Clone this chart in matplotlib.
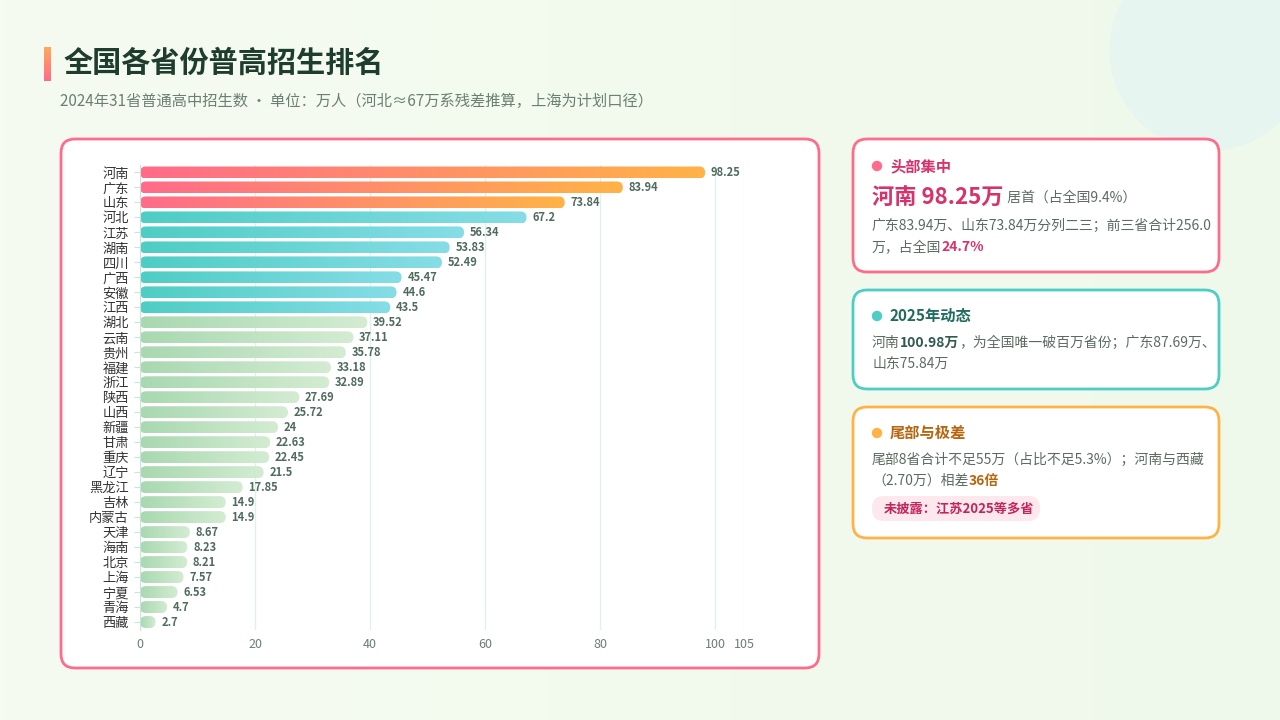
import matplotlib
matplotlib.use("Agg")
import matplotlib.pyplot as plt
import numpy as np
from matplotlib.patches import FancyBboxPatch, Circle
from matplotlib.colors import LinearSegmentedColormap, to_rgb

plt.rcParams['font.family'] = ['Noto Sans CJK SC', 'DejaVu Sans']

provinces = ["河南","广东","山东","河北","江苏","湖南","四川","广西","安徽","江西","湖北","云南","贵州","福建","浙江",
             "陕西","山西","新疆","甘肃","重庆","辽宁","黑龙江","吉林","内蒙古","天津","海南","北京","上海","宁夏","青海","西藏"]
values = [98.25,83.94,73.84,67.2,56.34,53.83,52.49,45.47,44.6,43.5,39.52,37.11,35.78,33.18,32.89,
          27.69,25.72,24,22.63,22.45,21.5,17.85,14.9,14.9,8.67,8.23,8.21,7.57,6.53,4.7,2.7]
xticks = [0,20,40,60,80,100,105]

W, H = 1280, 720
fig = plt.figure(figsize=(12.8, 7.2), dpi=100)
renderer = fig.canvas.get_renderer()

def fx(x): return x / W
def fy(y): return 1 - y / H

bg = fig.add_axes([0, 0, 1, 1], zorder=-10)
bg.set_xlim(0, W); bg.set_ylim(H, 0); bg.axis('off')
gx = np.linspace(0, 1, 200)[None, :, None]
c1, c2 = np.array(to_rgb("#F6FBF1")), np.array(to_rgb("#EFF9EB"))
img = c1 * (1 - gx) + c2 * gx
img = np.repeat(img, 2, axis=0)
bg.imshow(img, extent=[0, W, H, 0], aspect='auto', zorder=0)
bg.add_patch(Circle((1210, 50), 100, color="#E6F5F0", alpha=0.9, zorder=0.5))
bg.set_xlim(0, W); bg.set_ylim(H, 0)

acc = np.linspace(0, 1, 50)[:, None, None]
accimg = np.array(to_rgb("#FFA85C")) * (1 - acc) + np.array(to_rgb("#FF6B8A")) * acc
accimg = np.repeat(accimg, 3, axis=1)
bg.imshow(accimg, extent=[44, 51, 81, 47], aspect='auto', zorder=2)
bg.text(64, 63, "全国各省份普高招生排名", fontsize=21, fontweight='bold', color="#1F3D2E", va='center')
bg.text(60, 101, "2024年31省普通高中招生数 · 单位：万人（河北≈67万系残差推算，上海为计划口径）",
        fontsize=11, color="#6B7F73", va='center')
bg.set_xlim(0, W); bg.set_ylim(H, 0)

def card(x0, y0, x1, y1, ec):
    bg.add_patch(FancyBboxPatch((x0, y0), x1 - x0, y1 - y0, boxstyle="round,pad=0,rounding_size=14",
                                fc="white", ec=ec, lw=2, zorder=1))
card(61, 139, 819, 668, "#FF6B8A")
card(853, 139, 1219, 272, "#FF6B8A")
card(853, 290, 1219, 389, "#4ECDC4")
card(853, 407, 1219, 538, "#FFB347")

def seq(x, y, parts):
    for s, size, bold, col in parts:
        t = bg.text(x, y, s, fontsize=size, fontweight='bold' if bold else 'normal', color=col, va='center')
        bb = t.get_window_extent(renderer)
        x += bb.width
    return x

G = "#5B6B62"
bg.add_patch(Circle((877, 166), 4.5, color="#FF6B8A", zorder=3))
bg.text(890, 166, "头部集中", fontsize=11, fontweight='bold', color="#D6336C", va='center')
seq(872, 198, [("河南 98.25万", 16, True, "#D6336C"), (" 居首（占全国9.4%）", 10, False, G)])
bg.text(872, 226, "广东83.94万、山东73.84万分列二三；前三省合计256.0", fontsize=10, color=G, va='center')
seq(872, 247, [("万，占全国", 10, False, G), ("24.7%", 10, True, "#D6336C")])

bg.add_patch(Circle((877, 316), 4.5, color="#4ECDC4", zorder=3))
bg.text(890, 316, "2025年动态", fontsize=11, fontweight='bold', color="#1F6B5E", va='center')
seq(872, 343, [("河南", 10, False, G), ("100.98万", 10, True, "#2F5A4E"), ("，为全国唯一破百万省份；广东87.69万、", 10, False, G)])
bg.text(872, 364, "山东75.84万", fontsize=10, color=G, va='center')

bg.add_patch(Circle((877, 433), 4.5, color="#FFB347", zorder=3))
bg.text(890, 433, "尾部与极差", fontsize=11, fontweight='bold', color="#B8650F", va='center')
bg.text(872, 460, "尾部8省合计不足55万（占比不足5.3%）；河南与西藏", fontsize=10, color=G, va='center')
seq(872, 481, [("（2.70万）相差", 10, False, G), ("36倍", 10, True, "#B8650F")])
bg.add_patch(FancyBboxPatch((872, 496), 168, 25, boxstyle="round,pad=0,rounding_size=12",
                            fc="#FDE8EE", ec="none", zorder=2))
bg.text(884, 509, "未披露：江苏2025等多省", fontsize=9.5, fontweight='bold', color="#C2255C", va='center')

ax = fig.add_axes([fx(140), fy(630), (744 - 140) / W, (630 - 165) / H])
n = len(values)
ax.patch.set_alpha(0)
for s in ax.spines.values(): s.set_visible(False)
ax.spines['left'].set_visible(True); ax.spines['left'].set_color("#C9E4DA")
for t in xticks:
    ax.axvline(t, color="#E0F0EC", lw=1, zorder=0)
ax.set_xticks(xticks)
ax.set_xticklabels([str(t) for t in xticks], fontsize=9, color="#6B7F73")
ax.set_yticks(range(n))
ax.set_yticklabels(provinces, fontsize=9.5, color="#333333")
ax.tick_params(axis='x', length=0, pad=6)
ax.tick_params(axis='y', length=4, color="#C9E4DA", pad=4)

xpp = 105 / (744 - 140)
ypp = 1 / ((630 - 165) / n)
def grad_cmap(a, b): return LinearSegmentedColormap.from_list("g", [a, b])
cm_top = grad_cmap("#FF6B8A", "#FFB347")
cm_mid = grad_cmap("#4ECDC4", "#86DDE6")
cm_low = grad_cmap("#A8D8B0", "#D4ECD2")
hgt = 0.8
grad = np.linspace(0, 1, 256)[None, :]
for i, v in enumerate(values):
    cm = cm_top if i < 3 else (cm_mid if i < 10 else cm_low)
    r = 6 * xpp
    p = FancyBboxPatch((0, i - hgt / 2), v, hgt, boxstyle=f"round,pad=0,rounding_size={r}",
                       mutation_aspect=ypp / xpp, fc='none', ec='none')
    ax.add_patch(p)
    im = ax.imshow(grad, cmap=cm, extent=[0, v, i + hgt / 2, i - hgt / 2], aspect='auto', zorder=2)
    im.set_clip_path(p)
    ax.text(v + 1, i, f"{v:g}", fontsize=8, fontweight='bold', color="#4F6B5E", va='center', zorder=3)
ax.set_xlim(0, 105); ax.set_ylim(n - 0.5 + 0.03, -0.5)

fig.savefig("out.png", dpi=100)
